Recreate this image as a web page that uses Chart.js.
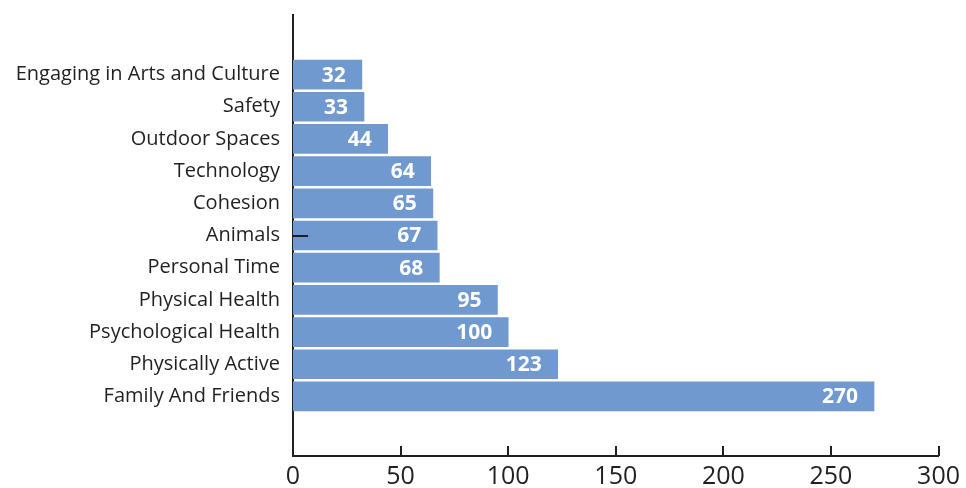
<!DOCTYPE html>
<html>
<head>
<meta charset="utf-8">
<script src="https://cdn.jsdelivr.net/npm/chart.js@4"></script>
<style>
  html, body { margin: 0; padding: 0; background: #fff; }
  #wrap { width: 966px; height: 488px; }
</style>
</head>
<body>
<div id="wrap"><canvas id="bar-chart"></canvas></div>
<script>
// categories, top to bottom
const categories = [
    'Engaging in Arts and Culture',
    'Safety',
    'Outdoor Spaces',
    'Technology',
    'Cohesion',
    'Animals',
    'Personal Time',
    'Physical Health',
    'Psychological Health',
    'Physically Active',
    'Family And Friends'
];

// number of mentions per category
const counts = [32, 33, 44, 64, 65, 67, 68, 95, 100, 123, 270];

// x axis ticks
const xTicks = [0, 50, 100, 150, 200, 250, 300];

// small stray marker seen on the Animals row
const strayMarker = { category: 'Animals', value: 7 };

const ink = '#231f20';
const barBlue = '#7099cf';
const font = '"Open Sans", sans-serif';

// value labels, drawn in white at the end of each bar
const valueLabels = {
    id: 'valueLabels',
    afterDatasetsDraw(chart) {
        const ctx = chart.ctx;
        const meta = chart.getDatasetMeta(0);
        ctx.save();
        ctx.fillStyle = '#ffffff';
        ctx.font = 'bold 21px ' + font;
        ctx.textAlign = 'right';
        ctx.textBaseline = 'middle';
        meta.data.forEach((bar, i) => {
            ctx.fillText(String(counts[i]), bar.x - 16, bar.y + 1);
        });
        ctx.restore();
    }
};

// inward tick marks on the x axis, plus the stray marker
const axisMarks = {
    id: 'axisMarks',
    afterDraw(chart) {
        const ctx = chart.ctx;
        const x = chart.scales.x;
        const y = chart.scales.y;
        ctx.save();
        ctx.strokeStyle = ink;
        ctx.lineWidth = 2;
        ctx.beginPath();
        xTicks.slice(1).forEach(v => {
            const px = Math.round(x.getPixelForValue(v));
            ctx.moveTo(px, y.bottom);
            ctx.lineTo(px, y.bottom - 10);
        });
        const my = Math.round(y.getPixelForValue(categories.indexOf(strayMarker.category)));
        ctx.moveTo(x.getPixelForValue(0), my);
        ctx.lineTo(x.getPixelForValue(strayMarker.value), my);
        ctx.stroke();
        ctx.restore();
    }
};

const ctx = document.getElementById('bar-chart').getContext('2d');

const barChart = new Chart(ctx, {
    type: 'bar',
    data: {
        datasets: [{
            data: counts.map((v, i) => ({ x: v, y: i })),
            backgroundColor: barBlue,
            borderWidth: 0,
            barThickness: 29
        }]
    },
    options: {
        indexAxis: 'y',
        responsive: true,
        maintainAspectRatio: false,
        animation: false,
        layout: { padding: { top: 15, right: 27, left: 0, bottom: 0 } },
        scales: {
            y: {
                type: 'linear',
                reverse: true,
                offset: false,
                min: -1.85,
                max: 11.85,
                afterBuildTicks: (axis) => {
                    axis.ticks = categories.map((_, i) => ({ value: i }));
                },
                afterFit: (axis) => {
                    axis.width = 293;
                    axis.paddingTop = 0;
                    axis.paddingBottom = 0;
                },
                grid: { display: false, drawTicks: false, offset: false },
                border: { display: true, color: ink, width: 2 },
                ticks: {
                    color: ink,
                    padding: 13,
                    font: { family: font, size: 20 },
                    callback: (v) => categories[v]
                }
            },
            x: {
                type: 'linear',
                min: 0,
                max: 300,
                afterBuildTicks: (axis) => {
                    axis.ticks = xTicks.map(v => ({ value: v }));
                },
                afterFit: (axis) => { axis.height = 32; },
                grid: { display: false, drawTicks: false },
                border: { display: true, color: ink, width: 2 },
                ticks: {
                    color: ink,
                    padding: 6,
                    maxRotation: 0,
                    font: { family: font, size: 25 }
                }
            }
        },
        plugins: {
            legend: { display: false },
            tooltip: { enabled: false }
        }
    },
    plugins: [valueLabels, axisMarks]
});
</script>
</body>
</html>
